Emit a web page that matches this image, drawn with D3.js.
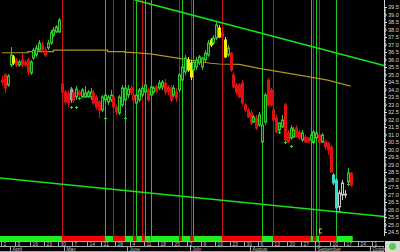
<!DOCTYPE html>
<html>
<head>
<meta charset="utf-8">
<script src="https://cdn.jsdelivr.net/npm/d3@7"></script>
<style>
  html, body { margin: 0; padding: 0; background: #000; }
  svg { display: block; }
</style>
</head>
<body>
<svg id="chart" width="400" height="252"></svg>
<script>
// daily candles, Apr 2 .. end of Sep
const open = [
  34.63,34.97,34.30,35.63,36.17,35.97,35.63,35.97,35.83,35.97,
  35.10,36.10,36.30,36.63,36.97,36.63,36.77,37.10,37.63,37.83,
  37.83,34.37,33.83,33.77,33.30,33.77,33.50,33.83,33.50,33.50,
  33.50,33.50,33.77,33.50,33.17,32.63,33.30,33.17,33.30,33.50,
  32.83,32.43,32.97,33.30,33.63,34.10,33.63,33.10,33.30,33.63,
  33.83,33.97,33.63,33.83,34.17,34.10,34.17,34.43,34.17,34.10,
  33.63,33.83,33.97,34.63,35.17,35.97,35.77,35.30,35.50,35.77,
  35.50,35.97,36.30,36.97,37.10,37.43,38.10,37.77,37.30,36.30,
  36.43,34.97,34.30,34.30,34.43,32.97,32.63,32.43,31.83,32.10,
  31.63,30.50,31.83,34.63,33.97,32.63,32.10,31.30,31.50,32.97,
  31.10,30.77,30.83,31.43,31.17,30.63,30.83,30.77,30.63,30.50,
  30.77,30.97,30.50,30.50,30.43,30.17,28.30,27.97,26.17,26.97,
  26.97,27.83,28.43];
const high = [
  34.90,35.10,35.03,36.83,36.30,36.10,35.97,36.43,35.97,36.10,
  35.97,36.77,36.97,37.30,37.17,36.83,37.30,37.97,38.17,38.30,
  38.77,34.90,33.97,33.97,34.17,33.97,34.23,33.97,34.10,34.23,
  33.97,34.10,33.97,33.63,33.30,33.63,33.83,33.63,33.97,33.63,
  32.97,33.63,34.30,34.30,34.30,34.30,33.83,33.77,34.10,34.30,
  34.43,34.10,34.30,34.23,34.30,34.63,34.63,34.70,34.30,34.30,
  34.30,34.10,35.10,35.63,36.30,36.17,35.97,35.97,36.17,36.30,
  36.17,36.63,37.30,37.43,37.63,38.50,38.30,37.97,37.50,36.97,
  36.50,35.10,34.43,34.43,34.63,33.10,32.77,32.63,32.30,32.30,
  32.50,31.83,33.77,34.77,34.10,32.77,32.30,31.77,32.30,33.10,
  31.30,31.63,31.50,31.63,31.30,31.30,30.97,30.83,31.17,31.30,
  31.30,31.10,31.10,30.63,30.50,30.30,28.43,28.10,27.30,27.97,
  27.30,28.77,28.50];
const low = [
  34.30,33.77,34.17,35.50,35.63,35.50,35.50,35.50,35.43,34.97,
  34.97,35.97,36.17,36.50,36.50,36.17,36.63,36.97,37.50,37.77,
  37.77,33.57,32.97,32.83,33.10,33.10,33.30,33.50,33.43,33.43,
  33.43,33.30,32.97,32.63,32.10,32.50,33.17,32.97,33.17,32.63,
  32.30,32.30,32.83,33.10,33.43,33.63,33.10,32.97,33.17,33.50,
  33.63,33.17,33.50,33.70,33.77,33.97,33.97,33.63,33.63,33.17,
  33.50,33.17,33.83,34.43,34.97,35.17,34.63,35.17,35.30,35.63,
  35.30,35.83,36.17,36.83,36.97,37.30,37.43,37.30,36.10,36.17,
  35.17,34.10,33.63,33.43,32.97,32.50,32.10,31.63,31.77,31.30,
  31.50,30.43,31.63,32.83,32.83,31.83,31.10,31.17,31.43,30.50,
  30.43,30.63,30.77,30.77,30.63,30.50,30.43,30.43,30.50,30.43,
  30.63,30.43,30.43,29.97,29.63,28.43,27.63,25.77,25.97,26.63,
  26.77,27.77,27.50];
const close = [
  34.50,34.10,34.90,36.30,35.77,35.63,35.83,35.63,35.63,35.17,
  35.83,36.63,36.77,37.10,36.63,36.30,37.10,37.77,37.97,38.17,
  38.63,33.83,33.17,33.10,34.03,33.30,34.03,33.63,33.97,33.77,
  33.83,33.83,33.10,32.83,32.63,33.50,33.63,33.50,33.63,32.83,
  32.50,33.50,34.10,34.10,34.03,33.77,33.30,33.63,33.97,34.10,
  34.30,33.30,34.17,34.10,33.90,34.43,34.50,33.83,33.83,33.30,
  34.10,33.43,34.97,35.50,36.10,35.30,34.83,35.83,35.97,36.17,
  36.10,36.43,37.10,37.30,37.43,38.30,37.50,37.50,36.17,36.77,
  35.30,34.17,33.83,33.50,33.10,32.63,32.17,31.77,32.17,31.43,
  32.30,31.63,33.63,32.97,32.97,31.97,31.17,31.77,31.97,30.63,
  30.50,31.43,31.30,30.83,30.77,31.10,30.50,30.50,30.97,31.17,
  31.10,30.50,30.97,30.17,29.97,28.50,27.77,26.10,27.10,27.77,
  27.03,28.43,27.63];

// candles painted in a special colour
const specialIdx = [4, 24, 65, 66, 73, 76, 78, 116, 117, 118, 119, 120];
const specialKind = ["yellow", "grey", "yellow", "yellow", "yellow", "yellow", "yellow",
                     "cyan", "cyan", "white", "white", "white"];

// buy / sell signal lines
const signalIdx = [21, 36, 39, 43, 46, 47, 49, 50, 52, 62, 63, 66, 67, 77, 91, 95, 108, 109, 110, 111, 117];
const signalType = ["sell", "buy", "sell", "buy", "sell", "buy", "sell", "buy", "buy", "sell", "buy",
                    "sell", "buy", "sell", "buy", "sell", "buy", "sell", "buy", "sell", "buy"];

// small green crosses under some bars
const crossIdx = [24, 26, 27, 36, 43, 97, 99, 101, 109, 118, 121];
const crossPrice = [32.83, 32.83, 33.43, 32.10, 32.10, 31.17, 30.50, 30.23, 30.50, 25.90, 27.70];

// moving average (read at a few points)
const maIdx = [0, 9, 9, 18, 18, 37, 37, 43, 43, 45, 52, 62, 68, 73, 76, 83, 90, 105, 114, 122];
const maVal = [36.45, 36.45, 36.52, 36.52, 36.63, 36.63, 36.52, 36.52, 36.48, 36.48,
               36.37, 36.08, 35.90, 35.75, 35.70, 35.68, 35.41, 34.92, 34.63, 34.23];

// trend channel
const upperIdx = [46.5, 133.7];
const upperVal = [39.97, 35.60];
const lowerIdx = [-0.7, 133.7];
const lowerVal = [28.10, 25.53];

const markIdx = [111];
const markVal = [24.57];

const priceTicks = d3.range(24.5, 39.51, 0.5);
const weekLabels = ["2", "9", "16", "23", "30", "7", "14", "21", "28", "4", "11", "18", "25",
                    "2", "9", "16", "23", "30", "6", "13", "20", "27", "3", "10", "17", "24", "1"];
const monthNames = ["April", "May", "June", "July", "August", "September", "October"];
const monthIdx = [3, 22, 44, 66, 87, 110, 129];

const svg = d3.select("#chart");
const width = +svg.attr("width");
const height = +svg.attr("height");

const plotRight = 384;
const plotBottom = 236;
const barBottom = 241;

const x = d3.scaleLinear().domain([-0.7, 133.7]).range([0, plotRight]);
const y = d3.scaleLinear().domain([24.5, 39.5]).range([232, 7]);
const px = i => Math.round(x(i));

const upColor = "#2fc82f";
const downColor = "#e01010";
const specialColor = { yellow: "#f0f000", grey: "#8ea8aa", cyan: "#3adcc8", white: "#c8c8c8" };

svg.append("rect").attr("width", width).attr("height", height).attr("fill", "#000");

svg.append("defs").append("clipPath").attr("id", "plotClip")
    .append("rect").attr("width", plotRight).attr("height", plotBottom);

const plot = svg.append("g").attr("clip-path", "url(#plotClip)");

// signal lines
plot.selectAll(".signal")
    .data(signalIdx)
    .join("line")
    .attr("class", "signal")
    .attr("x1", d => px(d) + 0.5)
    .attr("x2", d => px(d) + 0.5)
    .attr("y1", 0)
    .attr("y2", plotBottom)
    .attr("stroke", (d, k) => signalType[k] === "buy" ? "#1ec81e" : "#c81010")
    .attr("stroke-width", 1);

// moving average
plot.append("path")
    .datum(maIdx.map((d, k) => [d, maVal[k]]))
    .attr("fill", "none")
    .attr("stroke", "#b4941a")
    .attr("stroke-width", 1.2)
    .attr("d", d3.line().x(d => x(d[0])).y(d => y(d[1])));

// trend channel
const trendLine = d3.line().x(d => x(d[0])).y(d => y(d[1]));
[[upperIdx, upperVal], [lowerIdx, lowerVal]].forEach(([idx, val]) => {
    plot.append("path")
        .datum(idx.map((d, k) => [d, val[k]]))
        .attr("fill", "none")
        .attr("stroke", "#14e614")
        .attr("stroke-width", 1.6)
        .attr("d", trendLine);
});

// candles
const candles = open.map((o, i) => {
    const s = specialIdx.indexOf(i);
    return { i, o, h: high[i], l: low[i], c: close[i], kind: s >= 0 ? specialKind[s] : null };
});

function candleColor(d) {
    if (d.kind) return specialColor[d.kind];
    return d.c >= d.o ? upColor : downColor;
}

const cg = plot.selectAll(".candle")
    .data(candles)
    .join("g")
    .attr("class", "candle");

cg.append("line")
    .attr("x1", d => px(d.i) + 0.5)
    .attr("x2", d => px(d.i) + 0.5)
    .attr("y1", d => y(d.h))
    .attr("y2", d => y(d.l))
    .attr("stroke", candleColor)
    .attr("stroke-width", 1);

cg.append("rect")
    .attr("x", d => px(d.i) - 0.5)
    .attr("width", 2)
    .attr("y", d => y(Math.max(d.o, d.c)))
    .attr("height", d => Math.max(1, Math.abs(y(d.o) - y(d.c))))
    .attr("fill", d => {
        if (d.kind === "white") return "#000";
        if (d.kind) return specialColor[d.kind];
        return d.c >= d.o ? "#0b3d0b" : downColor;
    })
    .attr("stroke", candleColor)
    .attr("stroke-width", 1);

// green crosses
plot.selectAll(".cross")
    .data(crossIdx)
    .join("path")
    .attr("class", "cross")
    .attr("d", (d, k) => {
        const cx = px(d) + 0.5, cy = Math.round(y(crossPrice[k])) + 0.5;
        return `M${cx - 1.5},${cy}H${cx + 1.5}M${cx},${cy - 1.5}V${cy + 1.5}`;
    })
    .attr("stroke", "#22e022")
    .attr("stroke-width", 1);

// yellow mark near the bottom
plot.selectAll(".mark")
    .data(markIdx)
    .join("path")
    .attr("class", "mark")
    .attr("d", (d, k) => {
        const cx = px(d) + 0.5, cy = y(markVal[k]);
        return `M${cx + 2.5},${cy - 2}H${cx}V${cy + 2}H${cx + 2.5}`;
    })
    .attr("fill", "none")
    .attr("stroke", "#f0d000")
    .attr("stroke-width", 1);

// state bar under the chart
const segments = [];
let state = "buy";
let from = -0.7;
signalIdx.forEach((d, k) => {
    segments.push({ from, to: d, state });
    from = d;
    state = signalType[k];
});
segments.push({ from, to: open.length - 0.25, state });

svg.selectAll(".state")
    .data(segments)
    .join("rect")
    .attr("class", "state")
    .attr("x", d => x(d.from))
    .attr("width", d => x(d.to) - x(d.from))
    .attr("y", plotBottom)
    .attr("height", barBottom - plotBottom)
    .attr("fill", d => d.state === "buy" ? "#1ef01e" : "#f00000");

// price axis
svg.append("line")
    .attr("x1", plotRight + 0.5).attr("x2", plotRight + 0.5)
    .attr("y1", 0).attr("y2", plotBottom)
    .attr("stroke", "#d0d0d0");

const minor = svg.append("g")
    .attr("transform", `translate(${plotRight + 0.5},0)`)
    .call(d3.axisRight(y).tickValues(d3.range(24.5, 39.51, 0.1)).tickSize(1.5).tickFormat(""));
minor.select(".domain").remove();
minor.selectAll("line").attr("stroke", "#c0c0c0");

const yAxis = svg.append("g")
    .attr("transform", `translate(${plotRight + 0.5},0)`)
    .call(d3.axisRight(y).tickValues(priceTicks).tickSize(2.5).tickPadding(1)
        .tickFormat(d3.format(".1f")));
yAxis.select(".domain").remove();
yAxis.selectAll("line").attr("stroke", "#e0e0e0");
yAxis.selectAll("text")
    .attr("fill", "#d8d8d8")
    .attr("font-family", "Liberation Sans, Arial, sans-serif")
    .attr("font-size", 5.6);

// date rows
const rowLine = "#a8a8a8";
[barBottom + 0.5, 246.5, 251.5].forEach(v => {
    svg.append("line")
        .attr("x1", 0).attr("x2", plotRight)
        .attr("y1", v).attr("y2", v)
        .attr("stroke", rowLine).attr("stroke-width", 1);
});

const weeks = svg.selectAll(".week")
    .data(weekLabels)
    .join("g")
    .attr("class", "week")
    .attr("transform", (d, k) => `translate(${px(k * 5) - 1},0)`);

weeks.append("line")
    .attr("x1", 0.5).attr("x2", 0.5)
    .attr("y1", barBottom).attr("y2", 246.5)
    .attr("stroke", rowLine);

weeks.append("text")
    .attr("x", 2.5)
    .attr("y", 246)
    .attr("fill", "#c8c8c8")
    .attr("font-family", "Liberation Sans, Arial, sans-serif")
    .attr("font-size", 4.8)
    .text(d => d);

const months = svg.selectAll(".month")
    .data(monthNames)
    .join("g")
    .attr("class", "month")
    .attr("transform", (d, k) => `translate(${px(monthIdx[k]) - 1},0)`);

months.append("line")
    .attr("x1", 0.5).attr("x2", 0.5)
    .attr("y1", 246.5).attr("y2", 252)
    .attr("stroke", rowLine);

months.append("text")
    .attr("x", 2.5)
    .attr("y", 251)
    .attr("fill", "#c8c8c8")
    .attr("font-family", "Liberation Sans, Arial, sans-serif")
    .attr("font-size", 4.8)
    .text(d => d);

// corner badge
svg.append("rect")
    .attr("x", plotRight + 1).attr("y", barBottom)
    .attr("width", width - plotRight - 1).attr("height", height - barBottom)
    .attr("fill", "#d4dcd0");
svg.append("circle")
    .attr("cx", 392.5).attr("cy", 246.5).attr("r", 3.5)
    .attr("fill", "#58c858");
</script>
</body>
</html>
